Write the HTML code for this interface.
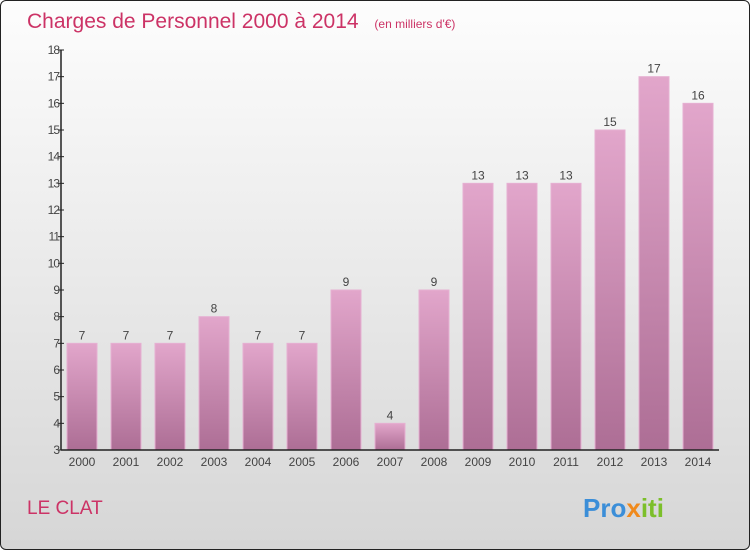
<!DOCTYPE html>
<html><head><meta charset="utf-8"><style>
body{margin:0;width:750px;height:550px;overflow:hidden}
#c{position:relative;width:748px;height:548px;border:1px solid #222;border-radius:6px;background:linear-gradient(#fdfdfd,#d6d6d6);font-family:"Liberation Sans",sans-serif}
</style></head><body>
<div id="c">
<svg id="s" width="748" height="548" style="position:absolute;left:0;top:0">
<defs><linearGradient id="g" x1="0" y1="0" x2="0" y2="1"><stop offset="0" stop-color="#e2a6cb"/><stop offset="1" stop-color="#ad6e95"/></linearGradient></defs>
<text x="26" y="27" font-size="21" fill="#cc3366">Charges de Personnel 2000 à 2014 <tspan font-size="12" dx="10">(en milliers d'€)</tspan></text>
<text x="26" y="513" font-size="19" fill="#cc3366">LE CLAT</text>
<text x="582" y="516" font-size="26" font-weight="bold"><tspan fill="#3b8ed8">Pro</tspan><tspan fill="#f08a1c">x</tspan><tspan fill="#7cbf2a">iti</tspan></text>
<g id="plot"></g>
</svg>
</div>
<script>
const categories=["2000","2001","2002","2003","2004","2005","2006","2007","2008","2009","2010","2011","2012","2013","2014"];
const values=[7,7,7,8,7,7,9,4,9,13,13,13,15,17,16];
const yTicks=[3,4,5,6,7,8,9,10,11,12,13,14,15,16,17,18];
const ns="http://www.w3.org/2000/svg";
const g=document.getElementById('plot');
const y0=449,y1=49,vmin=3,vmax=18,axX=60;
const y=v=>y0-(v-vmin)/(vmax-vmin)*(y0-y1);
const x=i=>81+i*44;
function mk(t,a,txt){const e=document.createElementNS(ns,t);for(const k in a)e.setAttribute(k,a[k]);if(txt!==undefined)e.textContent=txt;g.appendChild(e);return e;}
values.forEach((v,i)=>{
 const r=mk('rect',{x:x(i)-15,y:y(v),width:30,height:y0-y(v),fill:'url(#g)',stroke:'#e6b0d2','stroke-width':1});
 
 
 const t=mk('text',{x:x(i),y:y(v)-4,'text-anchor':'middle','font-size':12,fill:'#444'},v);
 
 
 const c=mk('text',{x:x(i),y:y0+16,'text-anchor':'middle','font-size':12,fill:'#444'},categories[i]);
 
 
});
yTicks.forEach(v=>{
 const l=mk('line',{x1:axX-3,x2:axX+3,y1:y(v),y2:y(v),stroke:'#222'});
 
 
 const t=mk('text',{x:axX-2,y:y(v)+4,'text-anchor':'end','font-size':12,fill:'#444','letter-spacing':'-1'},v);
 
 
});
const ya=mk('line',{x1:axX,x2:axX,y1:y1,y2:y0,stroke:'#222','stroke-width':1.5});


const xa=mk('line',{x1:axX,x2:718,y1:y0,y2:y0,stroke:'#222','stroke-width':1.5});


</script>
</body></html>
